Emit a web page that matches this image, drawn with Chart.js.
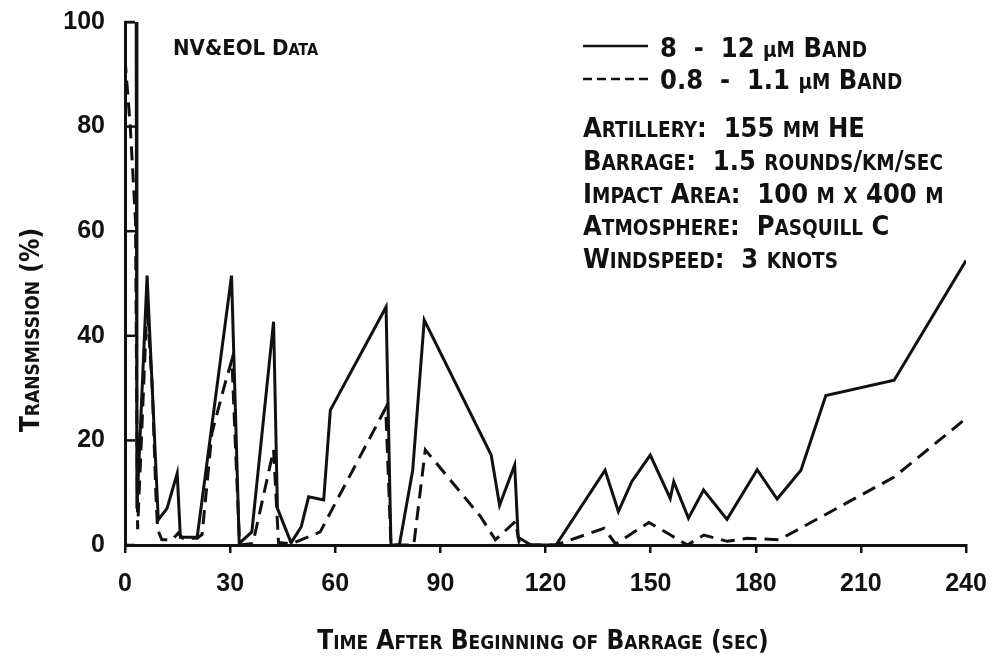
<!DOCTYPE html>
<html lang="en">
<head>
    <meta charset="UTF-8">
    <title>Transmission during barrage</title>
    <script src="https://cdn.jsdelivr.net/npm/chart.js"></script>
    <style>
        body { margin: 0; background: #fff; }
    </style>
</head>
<body>
    <canvas id="barrageChart" width="994" height="660"></canvas>

    <script>
        // time (sec) and transmission (%)
        const solidTime = [0, 0, 3.2, 3.4, 6.3, 9.5, 12, 14.9, 15.8, 20.6, 30.4, 32.6, 36.2, 42.4, 43.5, 47.4, 50.3, 52.4, 56.7, 58.6, 74.5, 75.9, 78.3, 82.1, 85.4, 104.5, 106.9, 111.2, 112.2, 115.8, 123, 137, 140.8, 144.6, 149.9, 155.6, 156.6, 160.8, 165.1, 171.8, 180.4, 186.1, 192.9, 200, 219.5, 240];
        const solidValue = [0, 100, 100, 7, 51.5, 4.8, 7, 13.7, 1.5, 1.5, 51.5, 0.3, 2.5, 42.7, 7, 0.4, 3.5, 9.2, 8.6, 25.8, 45.5, 0, 0, 14.3, 43, 17.2, 7.6, 15.3, 1.5, 0, 0, 14.3, 6.4, 12.1, 17.2, 8.9, 12.1, 5.1, 10.5, 4.9, 14.4, 8.8, 14.3, 28.6, 31.5, 54.4];

        const dashedTime = [0, 1.5, 3, 3.6, 6.3, 7.8, 8.8, 9.3, 10.5, 13.5, 15.2, 16.5, 20.6, 22, 24.8, 28.6, 30.5, 32.7, 36.5, 42.4, 43.8, 47.4, 55.7, 74.4, 75.9, 82.4, 85.7, 101.4, 105.7, 111.4, 112.5, 116, 123, 136.7, 140, 149.5, 155.7, 160.5, 165.2, 171.9, 177.6, 186.7, 219.5, 240];
        const dashedValue = [93, 80, 62, 3, 46, 30, 10, 3, 1, 1, 2.3, 1.3, 1.3, 2, 21.4, 31, 35.4, 0, 0.3, 18.2, 0.5, 0.2, 2.5, 26.2, 0, 0, 18.2, 5.5, 1.0, 4.5, 0.5, 0, 0, 3.2, 0.2, 4.3, 1.9, 0, 1.9, 0.7, 1.3, 1, 13, 24.2];

        const seriesLabels = ['8 - 12 \u00b5m Band', '0.8 - 1.1 \u00b5m Band'];
        const infoLines = [
            'Artillery:  155 mm HE',
            'Barrage:  1.5 rounds/km/sec',
            'Impact Area:  100 m x 400 m',
            'Atmosphere:  Pasquill C',
            'Windspeed:  3 knots'
        ];
        const sourceNote = 'NV&EOL Data';
        const xTitle = 'Time After Beginning of Barrage (sec)';
        const yTitle = 'Transmission (%)';

        const FONT = '"DejaVu Sans Condensed", sans-serif';
        const TICK_FONT = '"Liberation Sans", Arial, sans-serif';

        // lower case letters are drawn as small capitals
        function capsRuns(text) {
            const runs = [];
            for (const c of text) {
                const small = /[a-z\u00b5]/.test(c);
                const s = c === '\u00b5' ? c : c.toUpperCase();
                const last = runs[runs.length - 1];
                if (last && last.small === small) last.s += s;
                else runs.push({ s, small });
            }
            return runs;
        }

        function drawCaps(ctx, text, x, y, big, small, align) {
            const runs = capsRuns(text);
            let w = 0;
            runs.forEach(r => {
                ctx.font = 'bold ' + (r.small ? small : big) + 'px ' + FONT;
                r.w = ctx.measureText(r.s).width;
                w += r.w;
            });
            if (align === 'center') x -= w / 2;
            ctx.textAlign = 'left';
            ctx.textBaseline = 'alphabetic';
            runs.forEach(r => {
                ctx.font = 'bold ' + (r.small ? small : big) + 'px ' + FONT;
                ctx.fillText(r.s, x, y);
                x += r.w;
            });
        }

        const textPlugin = {
            id: 'barrageText',
            afterDraw(chart) {
                const ctx = chart.ctx;
                const y = chart.scales.y;
                const area = chart.chartArea;
                ctx.save();
                ctx.fillStyle = '#111';
                ctx.strokeStyle = '#111';

                // inward ticks on the y axis
                ctx.lineWidth = 2.5;
                y.ticks.forEach(t => {
                    const py = y.getPixelForValue(t.value);
                    ctx.beginPath();
                    ctx.moveTo(area.left, py);
                    ctx.lineTo(area.left + 10, py);
                    ctx.stroke();
                });

                drawCaps(ctx, sourceNote, 173, 55, 22, 16);

                // legend
                ctx.lineWidth = 2.5;
                ctx.beginPath();
                ctx.moveTo(583, 46);
                ctx.lineTo(648, 46);
                ctx.stroke();
                ctx.setLineDash([9, 5]);
                ctx.beginPath();
                ctx.moveTo(583, 79);
                ctx.lineTo(650, 79);
                ctx.stroke();
                ctx.setLineDash([]);
                chart.data.datasets.forEach((ds, i) => {
                    drawCaps(ctx, ds.label.replace(' - ', '  -  '), 660, 57 + i * 32, 27, 20.5);
                });

                infoLines.forEach((line, i) => {
                    drawCaps(ctx, line, 583, 137 + i * 32.8, 27, 20.5);
                });

                drawCaps(ctx, xTitle, 543, 649, 26, 19, 'center');

                ctx.translate(39, 330);
                ctx.rotate(-Math.PI / 2);
                drawCaps(ctx, yTitle, 0, 0, 26, 19, 'center');
                ctx.restore();
            }
        };

        const toPoints = (xs, ys) => xs.map((x, i) => ({ x, y: ys[i] }));

        const ctx = document.getElementById('barrageChart').getContext('2d');
        new Chart(ctx, {
            type: 'line',
            data: {
                datasets: [{
                    label: seriesLabels[0],
                    data: toPoints(solidTime, solidValue),
                    borderColor: '#111',
                    borderWidth: 3,
                    pointRadius: 0,
                    tension: 0
                }, {
                    label: seriesLabels[1],
                    data: toPoints(dashedTime, dashedValue),
                    borderColor: '#111',
                    borderWidth: 3,
                    borderDash: [14, 8],
                    pointRadius: 0,
                    tension: 0
                }]
            },
            options: {
                responsive: false,
                animation: false,
                layout: { padding: { top: 22, right: 28, bottom: 0, left: 0 } },
                plugins: {
                    legend: { display: false },
                    tooltip: { enabled: false }
                },
                scales: {
                    x: {
                        type: 'linear',
                        min: 0,
                        max: 240,
                        ticks: {
                            stepSize: 30,
                            color: '#111',
                            padding: 16,
                            font: { family: TICK_FONT, size: 25, weight: 'bold' }
                        },
                        grid: {
                            drawOnChartArea: false,
                            tickLength: 8,
                            lineWidth: 2.5,
                            color: '#111'
                        },
                        border: { color: '#111', width: 3 },
                        afterFit(scale) {
                            scale.height = 115;
                            scale.paddingLeft = 0;
                            scale.paddingRight = 0;
                        }
                    },
                    y: {
                        min: 0,
                        max: 100,
                        ticks: {
                            stepSize: 20,
                            color: '#111',
                            padding: 20,
                            font: { family: TICK_FONT, size: 25, weight: 'bold' }
                        },
                        grid: { drawOnChartArea: false, drawTicks: false },
                        border: { color: '#111', width: 3 },
                        afterFit(scale) {
                            scale.width = 125;
                            scale.paddingTop = 0;
                            scale.paddingBottom = 0;
                        }
                    }
                }
            },
            plugins: [textPlugin]
        });
    </script>
</body>
</html>
